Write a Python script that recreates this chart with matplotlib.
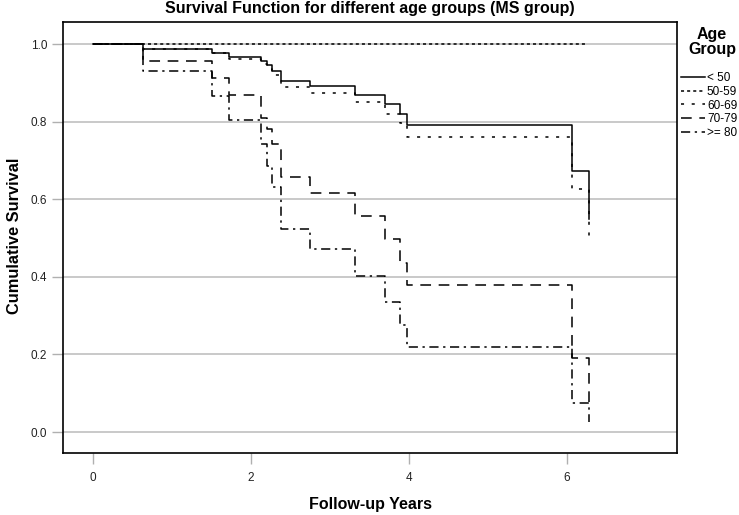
import matplotlib
matplotlib.use("Agg")
import matplotlib.pyplot as plt

plt.rcParams["font.family"] = ["Liberation Sans", "DejaVu Sans"]

# event times (years) shared by the step curves
times = [0, 0.63, 1.51, 1.72, 2.13, 2.20, 2.27, 2.38, 2.75, 3.32, 3.70, 3.89, 3.97, 6.06, 6.28]

surv_lt50 = [1.0, 0.987, 0.977, 0.966, 0.956, 0.946, 0.930, 0.905, 0.892, 0.869, 0.845, 0.820, 0.791, 0.673, 0.549]
times_50_59 = [0, 6.27]
surv_50_59 = [1.0, 1.0]
surv_60_69 = [1.0, 0.987, 0.977, 0.961, 0.948, 0.935, 0.920, 0.889, 0.874, 0.851, 0.820, 0.796, 0.760, 0.626, 0.500]
surv_70_79 = [1.0, 0.956, 0.912, 0.869, 0.810, 0.780, 0.742, 0.657, 0.616, 0.557, 0.497, 0.436, 0.379, 0.190, 0.075]
surv_ge80 = [1.0, 0.930, 0.866, 0.804, 0.742, 0.686, 0.631, 0.523, 0.472, 0.402, 0.335, 0.276, 0.219, 0.075, 0.026]

labels = ["< 50", "50-59", "60-69", "70-79", ">= 80"]
styles = ["-", (0, (2, 2)), (0, (2, 5)), (0, (7, 5)), (0, (6, 3, 1.5, 3))]

fig = plt.figure(figsize=(7.39, 5.15), dpi=100)
ax = fig.add_axes([0.0853, 0.1204, 0.8307, 0.8369])

series = [(times, surv_lt50), (times_50_59, surv_50_59), (times, surv_60_69),
          (times, surv_70_79), (times, surv_ge80)]
for (t, s), ls, lab in zip(series, styles, labels):
    ax.plot(t, s, drawstyle="steps-post", color="black", linestyle=ls, lw=1.1, label=lab)

ax.set_xlim(-0.38, 7.39)
ax.set_ylim(-0.054, 1.057)
ax.set_xticks([0, 2, 4, 6])
ax.set_yticks([0.0, 0.2, 0.4, 0.6, 0.8, 1.0])
ax.set_yticklabels(["0.0", "0.2", "0.4", "0.6", "0.8", "1.0"])
ax.yaxis.grid(True, color="#c0c0c0", lw=1.2)
ax.set_axisbelow(True)
ax.tick_params(axis="both", color="#b0b0b0", length=8, width=1, labelsize=8.5, labelcolor="#222222")
ax.tick_params(axis="x", pad=6)
for sp in ax.spines.values():
    sp.set_linewidth(1.2)

fig.text(370 / 739, 1 - 505 / 515, "Follow-up Years", ha="center", va="center",
         fontsize=11.5, fontweight="bold")
fig.text(15 / 739, 1 - 236 / 515, "Cumulative Survival", ha="center", va="center",
         rotation=90, fontsize=11.8, fontweight="bold")
fig.text(0.5, 1 - 9 / 515, "Survival Function for different age groups (MS group)",
         ha="center", va="center", fontsize=11.5, fontweight="bold")

# legend title placed by hand, entries below it
fig.text(712 / 739, 1 - 42 / 515, "Age\nGroup", ha="center", va="center",
         fontsize=11.5, fontweight="bold", linespacing=1.05)
leg = fig.legend(loc="upper left", bbox_to_anchor=(681 / 739, 1 - 72 / 515), frameon=False,
                 fontsize=8.5, handlelength=2.0, handletextpad=0.2,
                 labelspacing=0.15, borderaxespad=0, borderpad=0)

fig.savefig("out.png", dpi=100)
